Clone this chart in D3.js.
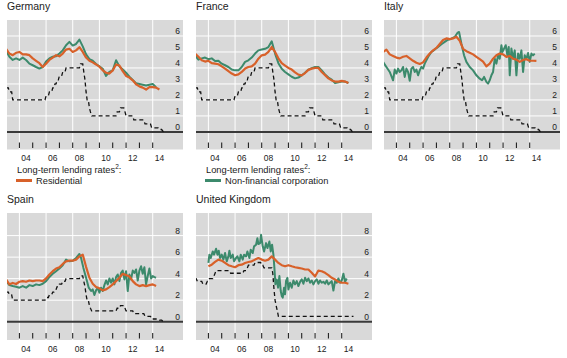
<!DOCTYPE html>
<html><head><meta charset="utf-8">
<script src="https://cdn.jsdelivr.net/npm/d3@7"></script>
<style>body{margin:0;background:#fff}svg{display:block;font-family:"Liberation Sans",Arial,sans-serif}</style>
</head><body><svg id="c" width="567" height="358"></svg>
<script>
// ---------- DATA ----------
const yearTicks = [2004,2005,2006,2007,2008,2009,2010,2011,2012,2013,2014];
const yearLabels = ["04","06","08","10","12","14"];
const labelYears = [2004,2006,2008,2010,2012,2014];
const topTicks = [0,1,2,3,4,5,6];
const bottomTicks = [0,2,4,6,8];

// quarterly series (first value at start year, one value per quarter)
const deResidential = [5.2,4.9,4.8,4.95,5.0,4.85,4.85,4.8,4.6,4.45,4.3,4.06,4.27,4.5,4.65,4.8,4.73,4.9,5.15,5.2,5.0,5.1,5.3,5.0,4.65,4.45,4.35,4.22,4.08,3.85,3.7,3.65,3.85,4.22,4.15,3.8,3.5,3.4,3.23,2.98,2.85,2.77,2.65,2.8,2.8,2.77,2.65];
const deCorporate = [5.06,4.7,4.5,4.6,4.5,4.65,4.5,4.27,4.17,4.06,3.96,4.06,4.4,4.6,4.7,4.73,4.9,5.1,5.42,5.63,5.4,5.5,5.77,5.35,4.85,4.55,4.45,4.25,4.1,3.95,3.5,3.75,3.85,4.48,4.1,3.9,3.7,3.45,3.25,3.05,3.0,2.95,2.9,2.95,3.0,2.8];
const frResidential = [4.9,4.7,4.48,4.4,4.45,4.3,4.27,4.23,4.1,3.96,3.8,3.65,3.54,3.6,3.75,3.96,4.06,4.1,4.27,4.58,4.79,4.83,5.0,5.31,5.0,4.6,4.3,4.15,4.0,3.9,3.72,3.58,3.54,3.68,3.88,3.96,4.0,4.0,3.75,3.55,3.35,3.22,3.15,3.15,3.19,3.15,3.06];
const frCorporate = [4.79,4.52,4.6,4.65,4.55,4.6,4.44,4.45,4.27,4.17,4.06,3.9,3.85,3.85,4.06,4.38,4.48,4.65,4.9,5.1,5.15,5.2,5.31,5.67,4.9,4.3,3.95,3.75,3.6,3.45,3.35,3.4,3.54,3.7,3.9,3.98,4.06,4.06,3.85,3.6,3.4,3.27,3.05,3.1,3.15,3.15,3.06];
const itResidential = [5.0,5.15,4.85,4.75,4.65,4.6,4.7,4.75,4.6,4.45,4.33,4.25,4.35,4.65,4.9,5.1,5.25,5.5,5.75,5.85,5.8,5.85,5.95,5.7,5.2,5.05,4.95,4.85,4.7,4.55,4.4,4.1,4.27,4.58,4.79,4.9,4.85,4.69,4.75,4.58,4.52,4.38,4.5,4.55,4.45,4.45,4.44];
const esResidential = [3.93,3.47,3.6,3.5,3.71,3.77,3.71,3.83,3.77,3.83,3.83,3.77,4.02,4.39,4.69,4.94,5.06,5.37,5.61,5.67,5.67,5.77,6.07,6.23,5.1,4.08,3.53,3.22,3.1,2.91,3.0,3.22,3.47,3.77,4.08,4.45,4.33,4.2,3.77,3.47,3.31,3.4,3.31,3.4,3.47,3.31];
const ukResidential = [5.15,5.3,5.55,5.77,5.67,5.46,5.25,5.15,5.06,5.25,5.3,5.46,5.55,5.61,5.77,5.92,5.77,5.67,5.77,6.07,5.77,5.46,5.25,5.15,5.25,5.15,5.06,5.0,4.94,4.85,4.85,4.54,4.2,4.75,4.69,4.54,4.33,4.08,3.93,3.71,3.62,3.62,3.53];

// irregularly read series: [year, value]
const itCorporate = [[2003.0,4.38],[2003.25,4.06],[2003.5,3.75],[2003.75,3.23],[2003.875,3.9],[2004.0,3.65],[2004.125,3.96],[2004.25,3.75],[2004.375,3.85],[2004.5,4.06],[2004.625,3.44],[2004.75,3.96],[2004.875,3.75],[2005.0,3.2],[2005.125,3.96],[2005.25,4.06],[2005.375,3.75],[2005.5,3.9],[2005.625,3.54],[2005.75,3.85],[2005.875,4.06],[2006.0,3.96],[2006.125,4.27],[2006.375,4.69],[2006.625,5.0],[2006.875,5.15],[2007.125,5.31],[2007.375,5.48],[2007.625,5.63],[2007.875,5.77],[2008.125,5.83],[2008.375,5.94],[2008.575,6.19],[2008.7,6.25],[2008.875,5.52],[2009.075,4.79],[2009.25,4.38],[2009.5,4.06],[2009.75,3.85],[2010.0,3.54],[2010.25,3.33],[2010.425,3.23],[2010.575,3.44],[2010.75,3.13],[2010.875,3.02],[2011.0,3.23],[2011.125,3.54],[2011.25,3.75],[2011.375,4.58],[2011.5,4.27],[2011.625,4.79],[2011.75,4.58],[2011.875,5.42],[2011.95,5.0],[2012.075,5.21],[2012.2,5.42],[2012.325,4.79],[2012.425,5.31],[2012.5,3.54],[2012.625,5.21],[2012.75,4.58],[2012.875,5.1],[2013.0,3.54],[2013.125,4.9],[2013.25,4.58],[2013.375,5.1],[2013.5,3.75],[2013.625,4.79],[2013.75,4.58],[2013.875,4.94],[2014.0,4.38],[2014.125,4.9],[2014.25,4.79],[2014.375,4.9]];
const esCorporate = [[2003.0,3.77],[2003.25,3.4],[2003.5,3.31],[2003.75,3.25],[2004.0,3.16],[2004.25,3.31],[2004.5,3.16],[2004.75,3.4],[2005.0,3.31],[2005.25,3.47],[2005.5,3.4],[2005.75,3.53],[2006.0,3.77],[2006.25,4.14],[2006.5,4.45],[2006.75,4.69],[2007.0,4.94],[2007.25,5.25],[2007.5,5.77],[2007.75,5.61],[2008.0,5.67],[2008.25,5.92],[2008.5,6.29],[2008.625,5.92],[2008.8,5.0],[2009.0,4.08],[2009.2,3.16],[2009.375,2.85],[2009.5,3.0],[2009.625,2.48],[2009.75,2.91],[2009.875,3.16],[2010.0,2.7],[2010.125,3.16],[2010.25,2.85],[2010.375,3.4],[2010.5,3.83],[2010.625,3.47],[2010.75,4.02],[2010.875,3.62],[2011.0,4.02],[2011.125,3.47],[2011.25,4.14],[2011.375,4.39],[2011.5,3.77],[2011.625,4.54],[2011.75,4.75],[2011.875,3.93],[2012.0,4.69],[2012.125,2.85],[2012.25,4.39],[2012.375,3.93],[2012.5,4.75],[2012.625,4.54],[2012.75,4.85],[2012.875,3.83],[2013.0,4.75],[2013.125,5.15],[2013.25,4.45],[2013.375,5.06],[2013.5,3.47],[2013.625,4.24],[2013.75,4.94],[2013.875,4.02],[2014.0,4.24],[2014.125,4.14],[2014.25,4.08]];
const ukCorporate = [[2004.0,5.46],[2004.075,6.23],[2004.175,5.92],[2004.325,6.53],[2004.425,6.23],[2004.575,6.78],[2004.675,6.23],[2004.775,6.6],[2004.875,5.92],[2005.0,6.23],[2005.125,5.77],[2005.25,6.38],[2005.375,5.61],[2005.5,6.07],[2005.575,6.6],[2005.675,5.92],[2005.825,6.23],[2005.925,5.61],[2006.075,5.92],[2006.175,6.07],[2006.325,5.61],[2006.425,6.23],[2006.575,5.77],[2006.675,6.23],[2006.825,6.07],[2006.925,6.53],[2007.075,5.92],[2007.175,6.69],[2007.325,6.38],[2007.425,7.0],[2007.575,7.15],[2007.675,7.76],[2007.75,7.21],[2007.875,7.3],[2007.95,8.07],[2008.075,7.0],[2008.175,6.53],[2008.325,7.3],[2008.425,6.84],[2008.575,7.45],[2008.675,6.53],[2008.775,7.15],[2008.875,6.23],[2008.95,5.0],[2009.025,3.47],[2009.125,3.93],[2009.225,3.16],[2009.325,4.24],[2009.425,2.85],[2009.5,2.4],[2009.575,2.24],[2009.675,3.16],[2009.75,2.55],[2009.825,3.8],[2009.925,4.08],[2010.0,3.0],[2010.125,3.62],[2010.25,3.16],[2010.375,3.83],[2010.5,3.47],[2010.625,3.77],[2010.75,3.31],[2010.875,3.71],[2011.0,3.93],[2011.125,3.53],[2011.25,4.08],[2011.375,3.77],[2011.5,4.02],[2011.625,3.62],[2011.75,3.83],[2011.875,3.47],[2012.0,3.77],[2012.125,3.93],[2012.25,3.53],[2012.375,3.83],[2012.5,3.62],[2012.625,3.71],[2012.75,3.53],[2012.875,3.83],[2013.0,3.47],[2013.125,3.62],[2013.25,3.77],[2013.375,2.9],[2013.5,3.77],[2013.625,3.62],[2013.75,4.02],[2013.875,3.62],[2014.0,3.83],[2014.125,4.45],[2014.25,3.71],[2014.375,4.02]];

// policy rates: [year, value]
const euroPolicy = [[2003.0,2.75],[2003.17,2.75],[2003.25,2.5],[2003.42,2.5],[2003.5,2.0],[2005.92,2.0],[2006.0,2.25],[2006.17,2.25],[2006.25,2.5],[2006.42,2.5],[2006.5,2.75],[2006.58,2.75],[2006.67,3.0],[2006.75,3.0],[2006.83,3.25],[2006.92,3.25],[2007.0,3.5],[2007.17,3.5],[2007.25,3.75],[2007.42,3.75],[2007.5,4.0],[2008.5,4.0],[2008.58,4.25],[2008.75,4.25],[2008.83,3.75],[2008.92,3.25],[2009.0,2.5],[2009.08,2.0],[2009.17,2.0],[2009.25,1.5],[2009.33,1.25],[2009.42,1.0],[2011.25,1.0],[2011.33,1.25],[2011.5,1.25],[2011.58,1.5],[2011.83,1.5],[2011.92,1.25],[2012.0,1.0],[2012.5,1.0],[2012.58,0.75],[2013.33,0.75],[2013.42,0.5],[2013.83,0.5],[2013.92,0.25],[2014.42,0.25],[2014.5,0.15],[2014.67,0.15],[2014.75,0.05],[2014.83,0.0]];
const ukPolicy = [[2003.0,4.0],[2003.08,4.0],[2003.17,3.75],[2003.5,3.75],[2003.58,3.5],[2003.83,3.5],[2003.92,3.75],[2004.0,3.75],[2004.08,4.0],[2004.33,4.0],[2004.42,4.25],[2004.5,4.5],[2004.58,4.75],[2005.58,4.75],[2005.67,4.5],[2006.58,4.5],[2006.67,4.75],[2006.83,4.75],[2006.92,5.0],[2007.0,5.25],[2007.42,5.25],[2007.5,5.5],[2007.92,5.5],[2008.0,5.25],[2008.08,5.25],[2008.17,5.0],[2008.75,5.0],[2008.83,4.5],[2008.92,3.0],[2009.0,2.0],[2009.08,1.5],[2009.17,1.0],[2009.25,0.5],[2014.88,0.5]];

const titles = ["Germany","France","Italy","Spain","United Kingdom"];

// ---------- LAYOUT ----------
const ORANGE = "#d8612a", GREEN = "#3c8a6c", BG = "#d9d9d9";
const W = 176;
const colLeft = [7, 196, 384];
const rows = [
  {top:20, h:129.5, dom:[-1.1,7], grid:[1,2,3,4,5,6], labels:topTicks},
  {top:213, h:127, dom:[-1.7,10.1], grid:[2,4,6,8], labels:bottomTicks}
];
const quarterly = (vals, start) => vals.map((v,i)=>[start + i*0.25, v]);

const panels = [
  {t:0, col:0, row:0, res:quarterly(deResidential,2003), corp:quarterly(deCorporate,2003), pol:euroPolicy},
  {t:1, col:1, row:0, res:quarterly(frResidential,2003), corp:quarterly(frCorporate,2003), pol:euroPolicy},
  {t:2, col:2, row:0, res:quarterly(itResidential,2003), corp:itCorporate, pol:euroPolicy},
  {t:3, col:0, row:1, res:quarterly(esResidential,2003), corp:esCorporate, pol:euroPolicy},
  {t:4, col:1, row:1, res:quarterly(ukResidential,2004), corp:ukCorporate, pol:ukPolicy}
];

const svg = d3.select("#c");
const x = d3.scaleLinear().domain([2003.07, 2016.27]).range([0, W]);

panels.forEach((p, idx) => {
  const r = rows[p.row];
  const g = svg.append("g").attr("transform", `translate(${colLeft[p.col]},${r.top})`);
  const y = d3.scaleLinear().domain(r.dom).range([r.h, 0]);

  svg.append("text").attr("x", colLeft[p.col]).attr("y", r.top - 10.5)
    .attr("font-size", 10.5).attr("fill", "#222").text(titles[p.t]);

  g.append("rect").attr("width", W).attr("height", r.h).attr("fill", BG);
  const clipId = "clip" + idx;
  g.append("clipPath").attr("id", clipId).append("rect").attr("width", W).attr("height", r.h);

  g.selectAll(".vg").data(labelYears).enter().append("line")
    .attr("x1", d=>x(d)).attr("x2", d=>x(d)).attr("y1", 0).attr("y2", r.h)
    .attr("stroke", "#fff").attr("stroke-width", 1);
  g.selectAll(".hg").data(r.grid).enter().append("line")
    .attr("x1", 0).attr("x2", W).attr("y1", d=>y(d)).attr("y2", d=>y(d))
    .attr("stroke", "#fff").attr("stroke-width", 1);

  g.append("line").attr("x1", 0).attr("x2", W).attr("y1", y(0)).attr("y2", y(0))
    .attr("stroke", "#3a3a3a").attr("stroke-width", 2);

  g.selectAll(".tk").data(yearTicks).enter().append("line")
    .attr("x1", d=>x(d)).attr("x2", d=>x(d)).attr("y1", r.h - 7).attr("y2", r.h - 1.5)
    .attr("stroke", "#111").attr("stroke-width", 1);

  g.selectAll(".xl").data(labelYears).enter().append("text")
    .attr("x", d=>x(d + 0.5)).attr("y", r.h + 11.8).attr("text-anchor", "middle")
    .attr("font-size", 8.5).attr("fill", "#222").text((d,i)=>yearLabels[i]);

  g.selectAll(".yl").data(r.labels).enter().append("text")
    .attr("x", W - 3).attr("y", d=>y(d) - 2).attr("text-anchor", "end")
    .attr("font-size", 8.5).attr("fill", "#222").text(d=>d);

  const line = d3.line().x(d=>x(d[0])).y(d=>y(d[1]));
  const lg = g.append("g").attr("clip-path", `url(#${clipId})`);
  lg.append("path").datum(p.pol).attr("d", line).attr("fill", "none")
    .attr("stroke", "#111").attr("stroke-width", 1.3).attr("stroke-dasharray", "4,3");
  lg.append("path").datum(p.corp).attr("d", line).attr("fill", "none")
    .attr("stroke", GREEN).attr("stroke-width", 2).attr("stroke-linejoin", "round");
  lg.append("path").datum(p.res).attr("d", line).attr("fill", "none")
    .attr("stroke", ORANGE).attr("stroke-width", 2.2).attr("stroke-linejoin", "round");
});

// legends
const legends = [
  {x: 17, label: "Residential", color: ORANGE},
  {x: 206, label: "Non-financial corporation", color: GREEN}
];
legends.forEach(l => {
  const t = svg.append("text").attr("x", l.x).attr("y", 172.5).attr("font-size", 9.3).attr("fill", "#222");
  t.append("tspan").text("Long-term lending rates");
  t.append("tspan").attr("dy", -3.5).attr("font-size", 6.5).text("2");
  t.append("tspan").attr("dy", 3.5).text(":");
  svg.append("line").attr("x1", l.x - 1).attr("x2", l.x + 15).attr("y1", 180.5).attr("y2", 180.5)
    .attr("stroke", l.color).attr("stroke-width", 3);
  svg.append("text").attr("x", l.x + 19).attr("y", 183.8).attr("font-size", 9.3).attr("fill", "#222").text(l.label);
});
</script></body></html>
